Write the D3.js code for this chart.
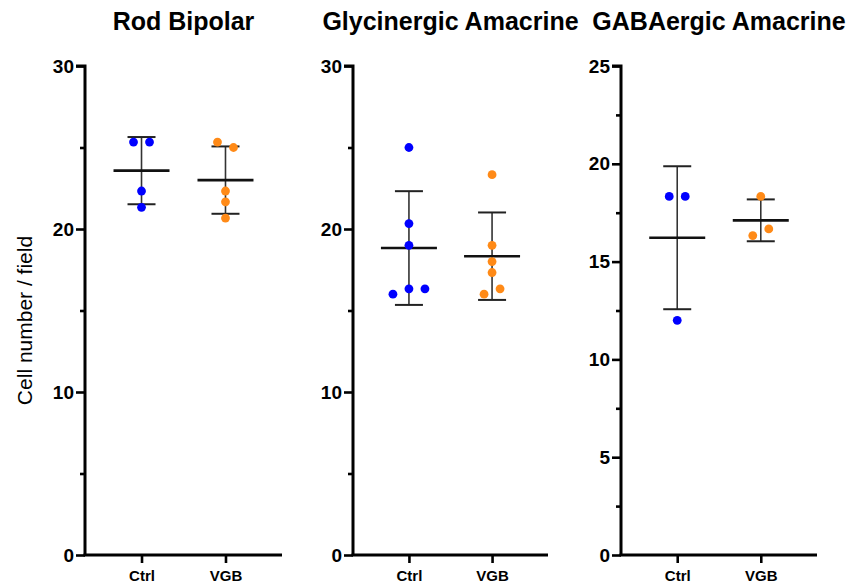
<!DOCTYPE html>
<html>
<head>
<meta charset="utf-8">
<script src="https://cdn.jsdelivr.net/npm/d3@7/dist/d3.min.js"></script>
<style>
  html, body { margin: 0; padding: 0; background: #fff; }
  svg { display: block; }
  text { font-family: "Liberation Sans", Arial, Helvetica, sans-serif; }
</style>
</head>
<body>
<svg id="chart" width="850" height="585"></svg>
<script>
// ---- Data ----
const panelTitles = ["Rod Bipolar", "Glycinergic Amacrine", "GABAergic Amacrine"];
const groups = ["Ctrl", "VGB"];
const rodCtrl  = [25.33, 25.33, 22.33, 21.33];
const rodVGB   = [25.33, 25.0, 22.33, 21.67, 20.67];
const glyCtrl  = [25.0, 20.33, 19.0, 16.0, 16.33, 16.33];
const glyVGB   = [23.33, 19.0, 18.0, 17.33, 16.0, 16.33];
const gabaCtrl = [18.33, 18.33, 12.0];
const gabaVGB  = [18.33, 16.33, 16.67];
const yMaxes = [30, 30, 25];
const yMajorTicks = [[0, 10, 20, 30], [0, 10, 20, 30], [0, 5, 10, 15, 20, 25]];
const yMinorTicks = [[5, 15, 25], [5, 15, 25], [2.5, 7.5, 12.5, 17.5, 22.5]];
const yLabel = "Cell number / field";
const panelData = [[rodCtrl, rodVGB], [glyCtrl, glyVGB], [gabaCtrl, gabaVGB]];

// ---- Layout ----
const colors = ["#0000ff", "#ff8a17"];
const panelX = [[85, 282], [353, 548], [621, 817]];
const yTop = 66, yBottom = 555;
const r = 4.4, spread = 16;

const svg = d3.select("#chart");

panelData.forEach((pd, pi) => {
  const [x0, x1] = panelX[pi];
  const y = d3.scaleLinear().domain([0, yMaxes[pi]]).range([yBottom, yTop]);
  const x = d3.scalePoint().domain(groups).range([x0, x1]).padding(0.673);
  const g = svg.append("g");

  // title
  g.append("text")
    .attr("x", (x0 + x1) / 2).attr("y", 30)
    .attr("text-anchor", "middle")
    .attr("font-size", 25).attr("font-weight", "bold")
    .text(panelTitles[pi]);

  // y axis
  const yAxis = d3.axisLeft(y).tickValues(yMajorTicks[pi]).tickSize(9).tickPadding(2).tickFormat(d3.format("d"));
  const ya = g.append("g").attr("transform", `translate(${x0},0)`).call(yAxis);
  ya.select(".domain").attr("stroke", "#000").attr("stroke-width", 3).attr("d", `M0,${yBottom}V${yTop}H-9`);
  ya.selectAll(".tick line").attr("stroke", "#000").attr("stroke-width", 2.6);
  ya.selectAll(".tick text").attr("font-size", 19).attr("font-weight", "bold").attr("fill", "#000")
    .attr("font-family", "'Liberation Sans', Arial, Helvetica, sans-serif");
  const yMinor = d3.axisLeft(y).tickValues(yMinorTicks[pi]).tickSize(5).tickFormat("");
  const ym = g.append("g").attr("transform", `translate(${x0},0)`).call(yMinor);
  ym.select(".domain").remove();
  ym.selectAll(".tick line").attr("stroke", "#000").attr("stroke-width", 2.6);

  // x axis
  const xAxis = d3.axisBottom(x).tickSize(8).tickPadding(7);
  const xa = g.append("g").attr("transform", `translate(0,${yBottom})`).call(xAxis);
  xa.select(".domain").attr("stroke", "#000").attr("stroke-width", 3).attr("d", `M${x0 - 1.5},0H${x1}`);
  xa.selectAll(".tick line").attr("stroke", "#000").attr("stroke-width", 2.6);
  xa.selectAll(".tick text").attr("font-size", 15).attr("font-weight", "bold").attr("fill", "#000")
    .attr("font-family", "'Liberation Sans', Arial, Helvetica, sans-serif");

  // y label
  if (pi === 0) {
    svg.append("text")
      .attr("transform", `translate(32,${(yTop + yBottom) / 2 + 10}) rotate(-90)`)
      .attr("text-anchor", "middle")
      .attr("font-size", 21)
      .text(yLabel);
  }

  pd.forEach((vals, gi) => {
    const cx = x(groups[gi]);
    const mean = d3.mean(vals), sd = d3.deviation(vals);

    // SD bar
    g.append("line").attr("x1", cx).attr("x2", cx)
      .attr("y1", y(mean + sd)).attr("y2", y(mean - sd))
      .attr("stroke", "#333").attr("stroke-width", 1.6);
    [mean + sd, mean - sd].forEach(v => {
      g.append("line").attr("x1", cx - 14).attr("x2", cx + 14)
        .attr("y1", y(v)).attr("y2", y(v))
        .attr("stroke", "#222").attr("stroke-width", 2);
    });
    // mean line
    g.append("line").attr("x1", cx - 28).attr("x2", cx + 28)
      .attr("y1", y(mean)).attr("y2", y(mean))
      .attr("stroke", "#111").attr("stroke-width", 2.6);

    // cluster nearby points for horizontal spread
    const clusters = [];
    const pts = vals.map(v => ({ v, py: y(v) }));
    pts.forEach(p => {
      let c = clusters.find(cl => cl.some(q => Math.abs(q.py - p.py) < 8));
      if (c) c.push(p); else clusters.push([p]);
    });
    clusters.forEach(cl => {
      cl.forEach((p, i) => { p.px = cx + (i - (cl.length - 1) / 2) * spread; });
    });

    g.selectAll(null).data(pts).enter().append("circle")
      .attr("cx", d => d.px).attr("cy", d => d.py).attr("r", r)
      .attr("fill", colors[gi]);
  });
});
</script>
</body>
</html>
